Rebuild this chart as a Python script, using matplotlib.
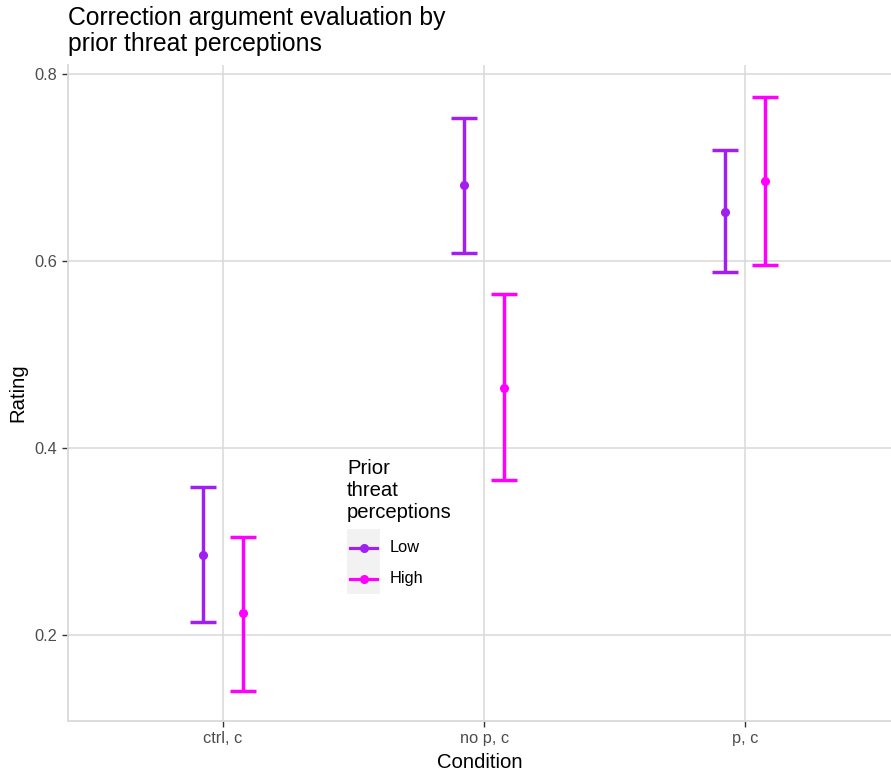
import matplotlib
matplotlib.use("Agg")
import matplotlib.pyplot as plt
from matplotlib.lines import Line2D
from matplotlib.patches import Rectangle
import numpy as np

plt.rcParams['font.family'] = ['Liberation Sans', 'DejaVu Sans']

conditions = ["ctrl, c", "no p, c", "p, c"]
groups = ["Low", "High"]
colors = {"Low": "#A020F0", "High": "#FF00FF"}
means = {"Low": [0.286, 0.681, 0.652], "High": [0.223, 0.464, 0.686]}
lower = {"Low": [0.214, 0.609, 0.588], "High": [0.140, 0.366, 0.596]}
upper = {"Low": [0.358, 0.753, 0.719], "High": [0.305, 0.565, 0.775]}
yticks = [0.2, 0.4, 0.6, 0.8]

W, H = 891, 772
fig = plt.figure(figsize=(W / 100, H / 100), dpi=100)

def fx(px):
    return px / W

def fy(py):
    return 1 - py / H

left, right, top, bottom = 68, 891, 65, 721
ax = fig.add_axes([fx(left), fy(bottom), fx(right) - fx(left), fy(top) - fy(bottom)])

x = np.arange(1, len(conditions) + 1)
offsets = {"Low": -0.077, "High": 0.077}
for g in groups:
    m = np.array(means[g])
    lo = m - np.array(lower[g])
    hi = np.array(upper[g]) - m
    ax.errorbar(x + offsets[g], m, yerr=[lo, hi], fmt='o', color=colors[g],
                ecolor=colors[g], elinewidth=2.5, capsize=9.4, capthick=2.5,
                markersize=5.5, zorder=3)

ax.set_xlim(0.406, 3.559)
ax.set_ylim(0.8 - (bottom - 74) / 935, 0.8 + (74 - top) / 935)
ax.set_xticks(x)
ax.set_xticklabels(conditions)
ax.set_yticks(yticks)
ax.set_yticklabels([f"{v:.1f}" for v in yticks])
ax.grid(True, color="#D9D9D9", linewidth=1.1)
ax.set_axisbelow(True)
for s in ["top", "right"]:
    ax.spines[s].set_visible(False)
for s in ["left", "bottom"]:
    ax.spines[s].set_color("#D9D9D9")
    ax.spines[s].set_linewidth(1.3)
ax.tick_params(axis='both', colors="#333333", labelcolor="#4D4D4D",
               labelsize=11.8, length=4, width=1)
ax.set_xlabel("Condition", fontsize=14.6, labelpad=5)
ax.set_ylabel("Rating", fontsize=14.6, labelpad=5)

fig.text(fx(68), fy(6), "Correction argument evaluation by\nprior threat perceptions",
         fontsize=17.8, ha='left', va='top', linespacing=1.12)

# Legend (drawn manually in figure coordinates)
fig.patches.append(Rectangle((fx(337), fy(605)), fx(463) - fx(337), fy(452) - fy(605),
                             transform=fig.transFigure, facecolor='white',
                             edgecolor='none', zorder=5))
fig.text(fx(347), fy(459), "Prior\nthreat\nperceptions", fontsize=14.6,
         ha='left', va='top', linespacing=1.2, zorder=6)
fig.patches.append(Rectangle((fx(347), fy(594)), fx(380) - fx(347), fy(529) - fy(594),
                             transform=fig.transFigure, facecolor='#F2F2F2',
                             edgecolor='none', zorder=6))
for g, ky in zip(groups, [548, 579]):
    fig.add_artist(Line2D([fx(350), fx(377)], [fy(ky), fy(ky)], color=colors[g],
                          linewidth=2.3, transform=fig.transFigure, zorder=7))
    fig.add_artist(Line2D([fx(363.5)], [fy(ky)], color=colors[g], marker='o',
                          markersize=5.5, transform=fig.transFigure, zorder=7))
    fig.text(fx(390), fy(ky), g, fontsize=11.8, ha='left', va='center', zorder=7)

fig.savefig("out.png", dpi=100, facecolor='white')
